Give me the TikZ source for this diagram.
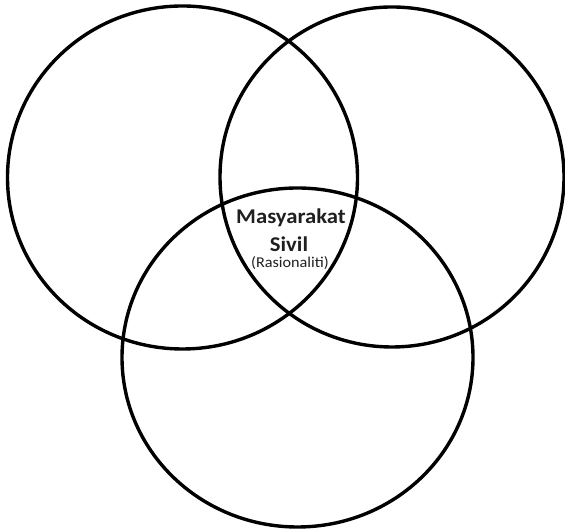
\documentclass[tikz,border=0pt]{standalone}
\usepackage{fontspec}
\setmainfont{Carlito}
\newfontfamily\widefont[FakeStretch=1.08]{Carlito}
\begin{document}
\begin{tikzpicture}[x=1pt,y=1pt,
  ring/.style={draw=black,line width=3.4pt},
  bigtext/.style={anchor=base,inner sep=0pt,font=\widefont\bfseries\fontsize{21}{21}\selectfont,text=black!88},
  smalltext/.style={anchor=base,inner sep=0pt,font=\widefont\fontsize{15}{15}\selectfont,text=black!88}]
\useasboundingbox (0,0) rectangle (565,529);
\draw[ring] (182.5,351.5) ellipse [x radius=175, y radius=171.5];
\draw[ring] (392,352) ellipse [x radius=172, y radius=170];
\draw[ring] (297.5,171.5) ellipse [x radius=175.5, y radius=169.5];
\node[bigtext] (m) at (291,305) {Masyarakat};
\node[bigtext] (s) at (289,277) {Sivil};
\node[smalltext] (r) at (290,261) {(Rasionaliti)};
\end{tikzpicture}
\end{document}
